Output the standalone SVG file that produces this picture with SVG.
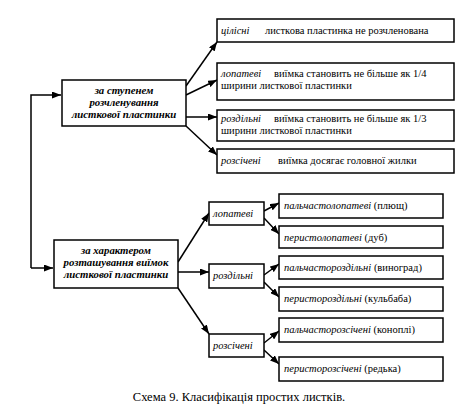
<svg xmlns="http://www.w3.org/2000/svg" width="456" height="411" viewBox="0 0 456 411" font-family="'Liberation Serif', 'Times New Roman', serif">
<defs>
<marker id="ah" markerUnits="userSpaceOnUse" markerWidth="9" markerHeight="7" refX="9" refY="3.5" orient="auto">
<path d="M0,0 L9,3.5 L0,7 Z" fill="#000"/>
</marker>
<style>
.box{fill:#fff;stroke:#000;stroke-width:1.5}
.c{fill:none;stroke:#000;stroke-width:1.5;marker-end:url(#ah)}
.t,.h,.cap{font-family:'Liberation Serif','Times New Roman',serif;fill:#000}
.t{font-size:10.5px}
.i{font-style:italic}
.h{font-size:10.8px;font-weight:bold;font-style:italic;text-anchor:middle}
.cap{font-size:12.5px;text-anchor:middle}
</style>
</defs>
<rect width="456" height="411" fill="#fff"/>
<g id="connectors">
<path class="c" d="M31,268 L31,95 L61,95"/>
<path class="c" d="M31,268 L53,268"/>
<path class="c" d="M186,86 L217,42"/>
<path class="c" d="M186,95 L217,80"/>
<path class="c" d="M186,117 L217,117"/>
<path class="c" d="M186,126 L217,155"/>
<path class="c" d="M178,262 L209,213"/>
<path class="c" d="M178,272 L209,272"/>
<path class="c" d="M178,288 L209,334"/>
<path class="c" d="M264,211 L279,203"/>
<path class="c" d="M264,218 L279,234"/>
<path class="c" d="M264,275 L279,264"/>
<path class="c" d="M264,282 L279,297"/>
<path class="c" d="M264,343 L279,331"/>
<path class="c" d="M264,350 L279,364"/>
</g>
<g id="n-stupin">
<rect class="box" x="62" y="80" width="124" height="46"/>
<text class="h" x="124" y="94">за ступенем</text>
<text class="h" x="124" y="106">розчленування</text>
<text class="h" x="124" y="118">листкової пластинки</text>
</g>
<g id="n-kharakter">
<rect class="box" x="54" y="240" width="124" height="48"/>
<text class="h" x="116" y="254">за характером</text>
<text class="h" x="116" y="266">розташування виїмок</text>
<text class="h" x="116" y="278">листкової пластинки</text>
</g>
<g id="n-tsilisni">
<rect class="box" x="217" y="19" width="237" height="23"/>
<text class="t i" x="221" y="34">цілісні</text>
<text class="t" x="265" y="34">листкова пластинка не розчленована</text>
</g>
<g id="n-lopatevi-top">
<rect class="box" x="217" y="63" width="237" height="37"/>
<text class="t i" x="221" y="77">лопатеві</text>
<text class="t" x="274" y="77">виїмка становить не більше як 1/4</text>
<text class="t" x="221" y="89">ширини листкової пластинки</text>
</g>
<g id="n-rozdilni-top">
<rect class="box" x="217" y="110" width="237" height="31"/>
<text class="t i" x="221" y="122">роздільні</text>
<text class="t" x="274" y="122">виїмка становить не більше як 1/3</text>
<text class="t" x="221" y="134">ширини листкової пластинки</text>
</g>
<g id="n-rozsicheni-top">
<rect class="box" x="217" y="149" width="237" height="24"/>
<text class="t i" x="221" y="164">розсічені</text>
<text class="t" x="278" y="164">виїмка досягає головної жилки</text>
</g>
<g id="n-lopatevi">
<rect class="box" x="209" y="202" width="55" height="23"/>
<text class="t i" x="213" y="217">лопатеві</text>
</g>
<g id="n-rozdilni">
<rect class="box" x="209" y="264" width="55" height="24"/>
<text class="t i" x="213" y="279">роздільні</text>
</g>
<g id="n-rozsicheni">
<rect class="box" x="209" y="334" width="55" height="23"/>
<text class="t i" x="213" y="349">розсічені</text>
</g>
<g id="n-r1">
<rect class="box" x="279" y="194" width="164" height="24"/>
<text class="t" x="284" y="209"><tspan class="i">пальчастолопатеві</tspan> (плющ)</text>
</g>
<g id="n-r2">
<rect class="box" x="279" y="226" width="164" height="22"/>
<text class="t" x="284" y="241"><tspan class="i">перистолопатеві</tspan> (дуб)</text>
</g>
<g id="n-r3">
<rect class="box" x="279" y="256" width="164" height="23"/>
<text class="t" x="284" y="271"><tspan class="i">пальчастороздільні</tspan> (виноград)</text>
</g>
<g id="n-r4">
<rect class="box" x="279" y="287" width="164" height="24"/>
<text class="t" x="284" y="302"><tspan class="i">перистороздільні</tspan> (кульбаба)</text>
</g>
<g id="n-r5">
<rect class="box" x="279" y="318" width="164" height="24"/>
<text class="t" x="284" y="333"><tspan class="i">пальчасторозсічені</tspan> (коноплі)</text>
</g>
<g id="n-r6">
<rect class="box" x="279" y="357" width="164" height="24"/>
<text class="t" x="284" y="372"><tspan class="i">перисторозсічені</tspan> (редька)</text>
</g>
<text class="cap" x="239" y="401">Схема 9. Класифікація простих листків.</text>
</svg>
